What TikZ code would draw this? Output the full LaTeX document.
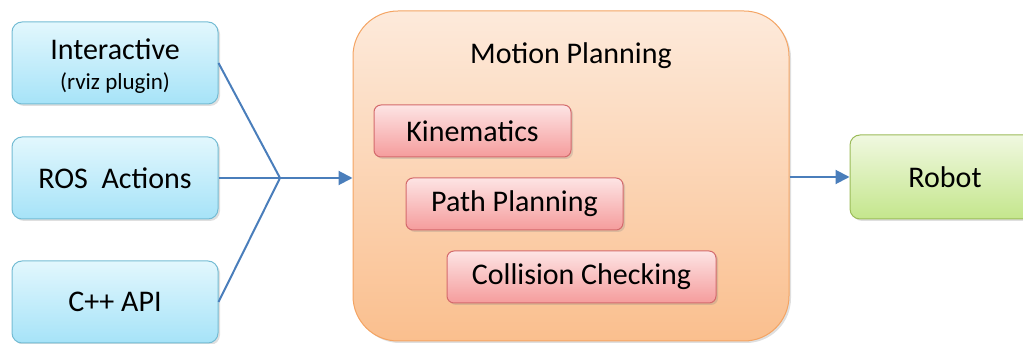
\documentclass[tikz,border=0pt]{standalone}
\usepackage{fontspec}
\setmainfont{Carlito}
\usetikzlibrary{shadings, shadows, arrows.meta}

\definecolor{linkblue}{HTML}{4A7EBB}
\definecolor{cyantop}{HTML}{E2F7FD}
\definecolor{cyanbot}{HTML}{A6E3F8}
\definecolor{cyanedge}{HTML}{74BCD4}
\definecolor{orangetop}{HTML}{FDEADB}
\definecolor{orangebot}{HTML}{FABF8E}
\definecolor{orangeedge}{HTML}{F4A463}
\definecolor{pinktop}{HTML}{FDE4E4}
\definecolor{pinkbot}{HTML}{F59C9C}
\definecolor{pinkedge}{HTML}{D46A6C}
\definecolor{greentop}{HTML}{F0F8E0}
\definecolor{greenbot}{HTML}{C4E68C}
\definecolor{greenedge}{HTML}{9BBB59}

\tikzset{
  block/.style={draw, line width=1pt, rounded corners=10pt, align=center,
    font=\fontsize{30}{32}\selectfont,
    drop shadow={shadow xshift=2pt, shadow yshift=-2pt, opacity=0.25}},
  inputbox/.style={block, minimum width=206pt, minimum height=82pt,
    draw=cyanedge, top color=cyantop, bottom color=cyanbot},
  plannerbox/.style={block, rounded corners=45pt, draw=orangeedge,
    top color=orangetop, bottom color=orangebot},
  partbox/.style={block, rounded corners=7pt, minimum height=52pt,
    draw=pinkedge, top color=pinktop, bottom color=pinkbot},
  robotbox/.style={block, minimum width=190pt, minimum height=84pt,
    draw=greenedge, top color=greentop, bottom color=greenbot},
  link/.style={draw=linkblue, line width=2pt},
  flow/.style={link, -{Triangle[length=14pt, width=14pt]}}
}

\begin{document}
\begin{tikzpicture}[x=1pt, y=-1pt]
    \useasboundingbox (0,0) rectangle (1023,344);

    % Ways in
    \node[inputbox] (interactive) at (115,63) {};
    \node (interactivetext) at (115,66) [align=center, font=\fontsize{30}{32}\selectfont]
        {Interactive\\[-2pt]{\fontsize{23}{26}\selectfont(rviz plugin)}};
    \node[inputbox] (rosactions) at (115,178) {ROS\ \ Actions};
    \node[inputbox] (cppapi) at (115,302) {C++ API};

    % Planner with its parts
    \node[plannerbox, minimum width=436pt, minimum height=330pt] (planner) at (571,176) {};
    \node[font=\fontsize{30}{32}\selectfont] (plannertitle) at (571,56) {Motion Planning};
    \node[partbox, minimum width=197pt] (kinematics) at (472.5,131) {Kinematics};
    \node[partbox, minimum width=217pt] (pathplanning) at (514.5,204) {Path Planning};
    \node[partbox, minimum width=269pt] (collision) at (581.5,277) {Collision Checking};

    % Output
    \node[robotbox] (robot) at (945,177) {Robot};

    % Connectors
    \coordinate (merge) at (280,178);
    \draw[link] (interactive.east) -- (merge);
    \draw[link] (rosactions.east) -- (merge);
    \draw[link] (cppapi.east) -- (merge);
    \draw[flow] (merge) -- (planner.west |- merge);
    \draw[flow] (planner.east |- robot.west) -- (robot.west);
\end{tikzpicture}
\end{document}
